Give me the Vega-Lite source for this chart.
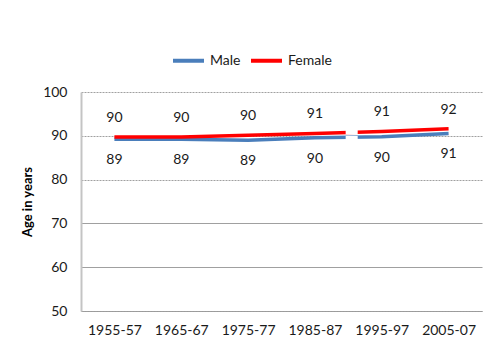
{
  "$schema": "https://vega.github.io/schema/vega-lite/v6.json",
  "autosize": {"type": "none"},
  "width": 401,
  "height": 219,
  "padding": {"left": 81, "top": 92, "right": 18, "bottom": 40},
  "background": "white",
  "config": {
    "view": {"stroke": null},
    "font": "Lato",
    "axis": {"labelFont": "Lato", "labelFontSize": 14, "labelColor": "#1a1a1a", "titleFont": "Lato"},
    "legend": {"labelFont": "Lato"}
  },
  "datasets": {
    "life": [
      {"period": "1955-57", "year": 1956, "sex": "Male", "age": 89.2},
      {"period": "1965-67", "year": 1966, "sex": "Male", "age": 89.2},
      {"period": "1975-77", "year": 1976, "sex": "Male", "age": 89.0},
      {"period": "1985-87", "year": 1986, "sex": "Male", "age": 89.55},
      {"period": "1995-97", "year": 1996, "sex": "Male", "age": 89.8},
      {"period": "2005-07", "year": 2006, "sex": "Male", "age": 90.55},
      {"period": "1955-57", "year": 1956, "sex": "Female", "age": 89.7},
      {"period": "1965-67", "year": 1966, "sex": "Female", "age": 89.75},
      {"period": "1975-77", "year": 1976, "sex": "Female", "age": 90.1},
      {"period": "1985-87", "year": 1986, "sex": "Female", "age": 90.55},
      {"period": "1995-97", "year": 1996, "sex": "Female", "age": 91.0},
      {"period": "2005-07", "year": 2006, "sex": "Female", "age": 91.6}
    ],
    "breaks": [
      {"from": 1990.6, "to": 1992.4, "low": 90.3, "high": 91.4},
      {"from": 1990.6, "to": 1992.4, "low": 89.1, "high": 89.97}
    ]
  },
  "layer": [
    {
      "data": {"name": "life"},
      "mark": {"type": "line", "strokeWidth": 3.5, "strokeCap": "butt"},
      "encoding": {
        "x": {
          "field": "year", "type": "quantitative",
          "scale": {"domain": [1951, 2011], "nice": false, "zero": false},
          "axis": {
            "title": null,
            "values": [1956, 1966, 1976, 1986, 1996, 2006],
            "labelExpr": "format(datum.value - 1, 'd') + '-' + format((datum.value + 1) % 100, '02d')",
            "grid": false,
            "ticks": false,
            "tickSize": 0,
            "labelPadding": 12,
            "domainColor": "#9a9a9a",
            "domainDash": [2, 1],
            "domainWidth": 1
          }
        },
        "y": {
          "field": "age", "type": "quantitative",
          "scale": {"domain": [50, 100], "nice": false, "zero": false},
          "axis": {
            "title": "Age in years",
            "titleFontSize": 13,
            "titleFontWeight": "bold",
            "titleColor": "#000000",
            "titlePadding": 8,
            "values": [50, 60, 70, 80, 90, 100],
            "grid": true,
            "gridColor": "#a0a0a0",
            "gridDash": {"condition": {"test": "datum.value >= 80", "value": [2, 1]}, "value": []},
            "ticks": false,
            "tickSize": 0,
            "labelPadding": 14,
            "domainColor": "#c4c4c4",
            "domainWidth": 2
          }
        },
        "color": {
          "field": "sex", "type": "nominal",
          "scale": {"domain": ["Male", "Female"], "range": ["#4a7ebb", "#ff0000"]},
          "legend": {
            "title": null,
            "orient": "none",
            "direction": "horizontal",
            "legendX": 90,
            "legendY": -49,
            "symbolType": "stroke",
            "symbolSize": 961,
            "symbolStrokeWidth": 4,
            "labelFontSize": 14,
            "labelColor": "#1a1a1a",
            "labelOffset": 4,
            "columnPadding": 2
          }
        }
      }
    },
    {
      "data": {"name": "breaks"},
      "mark": {"type": "rect", "color": "white"},
      "encoding": {
        "x": {"field": "from", "type": "quantitative"},
        "x2": {"field": "to"},
        "y": {"field": "low", "type": "quantitative"},
        "y2": {"field": "high"}
      }
    },
    {
      "data": {"name": "life"},
      "transform": [{"filter": "datum.sex === 'Female'"}],
      "mark": {"type": "text", "dy": -19, "fontSize": 14, "font": "Lato", "color": "#1a1a1a", "baseline": "middle"},
      "encoding": {
        "x": {"field": "year", "type": "quantitative"},
        "y": {"field": "age", "type": "quantitative"},
        "text": {"field": "age", "type": "quantitative", "format": ".0f"}
      }
    },
    {
      "data": {"name": "life"},
      "transform": [{"filter": "datum.sex === 'Male'"}],
      "mark": {"type": "text", "dy": 21, "fontSize": 14, "font": "Lato", "color": "#1a1a1a", "baseline": "middle"},
      "encoding": {
        "x": {"field": "year", "type": "quantitative"},
        "y": {"field": "age", "type": "quantitative"},
        "text": {"field": "age", "type": "quantitative", "format": ".0f"}
      }
    }
  ]
}
